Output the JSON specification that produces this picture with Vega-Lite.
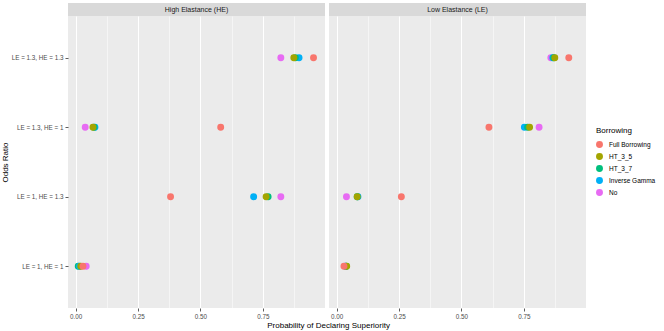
{
  "$schema": "https://vega.github.io/schema/vega-lite/v6.json",
  "padding": {"left": 1, "top": 3, "right": 3, "bottom": 4},
  "background": "white",
  "config": {
    "font": "Liberation Sans",
    "view": {"stroke": null},
    "axis": {
      "domain": false,
      "tickColor": "#333333",
      "tickSize": 3,
      "tickWidth": 0.8,
      "labelColor": "#4D4D4D",
      "labelFontSize": 6.3,
      "labelPadding": 2,
      "gridColor": "#FFFFFF",
      "gridWidth": 1,
      "titleFontSize": 8,
      "titleFontWeight": "normal",
      "titleColor": "#000000"
    },
    "legend": {
      "titleFontSize": 8,
      "titleFontWeight": "normal",
      "titleColor": "#000000",
      "labelFontSize": 6.5,
      "labelColor": "#000000",
      "symbolSize": 48,
      "symbolType": "circle",
      "symbolStrokeWidth": 0,
      "rowPadding": 5,
      "labelOffset": 6,
      "titlePadding": 6
    }
  },
  "datasets": {
    "pts": [
      {"panel": "High Elastance (HE)", "odds": "LE = 1.3, HE = 1.3", "borrowing": "Inverse Gamma", "prob": 0.895},
      {"panel": "High Elastance (HE)", "odds": "LE = 1.3, HE = 1.3", "borrowing": "HT_3_7", "prob": 0.88},
      {"panel": "High Elastance (HE)", "odds": "LE = 1.3, HE = 1.3", "borrowing": "HT_3_5", "prob": 0.874},
      {"panel": "High Elastance (HE)", "odds": "LE = 1.3, HE = 1.3", "borrowing": "No", "prob": 0.822},
      {"panel": "High Elastance (HE)", "odds": "LE = 1.3, HE = 1.3", "borrowing": "Full Borrowing", "prob": 0.953},
      {"panel": "High Elastance (HE)", "odds": "LE = 1.3, HE = 1", "borrowing": "Inverse Gamma", "prob": 0.077},
      {"panel": "High Elastance (HE)", "odds": "LE = 1.3, HE = 1", "borrowing": "HT_3_7", "prob": 0.073},
      {"panel": "High Elastance (HE)", "odds": "LE = 1.3, HE = 1", "borrowing": "HT_3_5", "prob": 0.069},
      {"panel": "High Elastance (HE)", "odds": "LE = 1.3, HE = 1", "borrowing": "No", "prob": 0.038},
      {"panel": "High Elastance (HE)", "odds": "LE = 1.3, HE = 1", "borrowing": "Full Borrowing", "prob": 0.581},
      {"panel": "High Elastance (HE)", "odds": "LE = 1, HE = 1.3", "borrowing": "Inverse Gamma", "prob": 0.713},
      {"panel": "High Elastance (HE)", "odds": "LE = 1, HE = 1.3", "borrowing": "HT_3_7", "prob": 0.771},
      {"panel": "High Elastance (HE)", "odds": "LE = 1, HE = 1.3", "borrowing": "HT_3_5", "prob": 0.763},
      {"panel": "High Elastance (HE)", "odds": "LE = 1, HE = 1.3", "borrowing": "No", "prob": 0.822},
      {"panel": "High Elastance (HE)", "odds": "LE = 1, HE = 1.3", "borrowing": "Full Borrowing", "prob": 0.38},
      {"panel": "High Elastance (HE)", "odds": "LE = 1, HE = 1", "borrowing": "HT_3_7", "prob": 0.01},
      {"panel": "High Elastance (HE)", "odds": "LE = 1, HE = 1", "borrowing": "Inverse Gamma", "prob": 0.015},
      {"panel": "High Elastance (HE)", "odds": "LE = 1, HE = 1", "borrowing": "HT_3_5", "prob": 0.02},
      {"panel": "High Elastance (HE)", "odds": "LE = 1, HE = 1", "borrowing": "No", "prob": 0.042},
      {"panel": "High Elastance (HE)", "odds": "LE = 1, HE = 1", "borrowing": "Full Borrowing", "prob": 0.029},
      {"panel": "Low Elastance (LE)", "odds": "LE = 1.3, HE = 1.3", "borrowing": "No", "prob": 0.858},
      {"panel": "Low Elastance (LE)", "odds": "LE = 1.3, HE = 1.3", "borrowing": "Inverse Gamma", "prob": 0.866},
      {"panel": "Low Elastance (LE)", "odds": "LE = 1.3, HE = 1.3", "borrowing": "HT_3_7", "prob": 0.87},
      {"panel": "Low Elastance (LE)", "odds": "LE = 1.3, HE = 1.3", "borrowing": "HT_3_5", "prob": 0.874},
      {"panel": "Low Elastance (LE)", "odds": "LE = 1.3, HE = 1.3", "borrowing": "Full Borrowing", "prob": 0.93},
      {"panel": "Low Elastance (LE)", "odds": "LE = 1.3, HE = 1", "borrowing": "Inverse Gamma", "prob": 0.752},
      {"panel": "Low Elastance (LE)", "odds": "LE = 1.3, HE = 1", "borrowing": "HT_3_7", "prob": 0.765},
      {"panel": "Low Elastance (LE)", "odds": "LE = 1.3, HE = 1", "borrowing": "HT_3_5", "prob": 0.773},
      {"panel": "Low Elastance (LE)", "odds": "LE = 1.3, HE = 1", "borrowing": "No", "prob": 0.811},
      {"panel": "Low Elastance (LE)", "odds": "LE = 1.3, HE = 1", "borrowing": "Full Borrowing", "prob": 0.61},
      {"panel": "Low Elastance (LE)", "odds": "LE = 1, HE = 1.3", "borrowing": "Inverse Gamma", "prob": 0.085},
      {"panel": "Low Elastance (LE)", "odds": "LE = 1, HE = 1.3", "borrowing": "HT_3_7", "prob": 0.082},
      {"panel": "Low Elastance (LE)", "odds": "LE = 1, HE = 1.3", "borrowing": "HT_3_5", "prob": 0.082},
      {"panel": "Low Elastance (LE)", "odds": "LE = 1, HE = 1.3", "borrowing": "No", "prob": 0.039},
      {"panel": "Low Elastance (LE)", "odds": "LE = 1, HE = 1.3", "borrowing": "Full Borrowing", "prob": 0.259},
      {"panel": "Low Elastance (LE)", "odds": "LE = 1, HE = 1", "borrowing": "No", "prob": 0.034},
      {"panel": "Low Elastance (LE)", "odds": "LE = 1, HE = 1", "borrowing": "Inverse Gamma", "prob": 0.036},
      {"panel": "Low Elastance (LE)", "odds": "LE = 1, HE = 1", "borrowing": "HT_3_7", "prob": 0.038},
      {"panel": "Low Elastance (LE)", "odds": "LE = 1, HE = 1", "borrowing": "HT_3_5", "prob": 0.04},
      {"panel": "Low Elastance (LE)", "odds": "LE = 1, HE = 1", "borrowing": "Full Borrowing", "prob": 0.029}
    ]
  },
  "title": {
    "text": "Probability of Declaring Superiority",
    "orient": "bottom",
    "anchor": "middle",
    "fontSize": 8,
    "fontWeight": "normal",
    "color": "#000000",
    "offset": 3
  },
  "columns": 2,
  "bounds": "flush",
  "spacing": {"row": 0, "column": 4},
  "resolve": {"scale": {"x": "independent", "y": "independent", "color": "shared"}, "legend": {"color": "shared"}},
  "concat": [
    {
      "width": 257, "height": 13,
      "view": {"fill": "#D9D9D9", "stroke": null},
      "data": {"values": [{"label": "High Elastance (HE)"}]},
      "mark": {"type": "text", "fontSize": 7, "color": "#1A1A1A", "baseline": "middle"},
      "encoding": {"text": {"field": "label", "type": "nominal"}}
    },
    {
      "width": 257, "height": 13,
      "view": {"fill": "#D9D9D9", "stroke": null},
      "data": {"values": [{"label": "Low Elastance (LE)"}]},
      "mark": {"type": "text", "fontSize": 7, "color": "#1A1A1A", "baseline": "middle"},
      "encoding": {"text": {"field": "label", "type": "nominal"}}
    },
    {
      "width": 257, "height": 292,
      "view": {"fill": "#EBEBEB", "stroke": null},
      "data": {"name": "pts"},
      "transform": [{"filter": "datum.panel === 'High Elastance (HE)'"}],
      "mark": {"type": "circle", "size": 48, "opacity": 1},
      "encoding": {
        "x": {
          "field": "prob", "type": "quantitative",
          "scale": {"domain": [-0.031, 0.999], "nice": false, "zero": false},
          "axis": {
            "title": null,
            "values": [0, 0.125, 0.25, 0.375, 0.5, 0.625, 0.75, 0.875],
            "labelExpr": "datum.value % 0.25 === 0 ? format(datum.value, '.2f') : ''",
            "gridWidth": {"condition": {"test": "datum.value % 0.25 !== 0", "value": 0.5}, "value": 1},
            "tickOpacity": {"condition": {"test": "datum.value % 0.25 !== 0", "value": 0}, "value": 1}
          }
        },
        "y": {
          "field": "odds", "type": "nominal",
          "sort": ["LE = 1.3, HE = 1.3", "LE = 1.3, HE = 1", "LE = 1, HE = 1.3", "LE = 1, HE = 1"],
          "scale": {"padding": 0.6},
          "axis": {"title": "Odds Ratio", "titlePadding": 2}
        },
        "color": {
          "field": "borrowing", "type": "nominal",
          "scale": {"domain": ["Full Borrowing", "HT_3_5", "HT_3_7", "Inverse Gamma", "No"], "range": ["#F8766D", "#A3A500", "#00BF7D", "#00B0F6", "#E76BF3"]},
          "legend": {"title": "Borrowing", "orient": "none", "legendX": 528, "legendY": 124}
        }
      }
    },
    {
      "width": 257, "height": 292,
      "view": {"fill": "#EBEBEB", "stroke": null},
      "data": {"name": "pts"},
      "transform": [{"filter": "datum.panel === 'Low Elastance (LE)'"}],
      "mark": {"type": "circle", "size": 48, "opacity": 1},
      "encoding": {
        "x": {
          "field": "prob", "type": "quantitative",
          "scale": {"domain": [-0.031, 0.999], "nice": false, "zero": false},
          "axis": {
            "title": null,
            "values": [0, 0.125, 0.25, 0.375, 0.5, 0.625, 0.75, 0.875],
            "labelExpr": "datum.value % 0.25 === 0 ? format(datum.value, '.2f') : ''",
            "gridWidth": {"condition": {"test": "datum.value % 0.25 !== 0", "value": 0.5}, "value": 1},
            "tickOpacity": {"condition": {"test": "datum.value % 0.25 !== 0", "value": 0}, "value": 1}
          }
        },
        "y": {
          "field": "odds", "type": "nominal",
          "sort": ["LE = 1.3, HE = 1.3", "LE = 1.3, HE = 1", "LE = 1, HE = 1.3", "LE = 1, HE = 1"],
          "scale": {"padding": 0.6},
          "axis": {"title": null, "labels": false, "ticks": false}
        },
        "color": {
          "field": "borrowing", "type": "nominal",
          "scale": {"domain": ["Full Borrowing", "HT_3_5", "HT_3_7", "Inverse Gamma", "No"], "range": ["#F8766D", "#A3A500", "#00BF7D", "#00B0F6", "#E76BF3"]},
          "legend": {"title": "Borrowing", "orient": "none", "legendX": 528, "legendY": 124}
        }
      }
    }
  ]
}
